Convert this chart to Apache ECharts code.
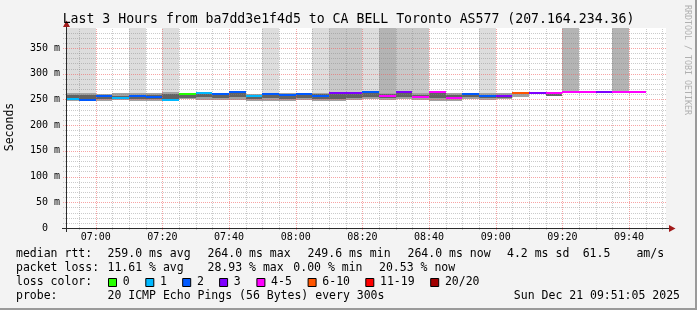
<!DOCTYPE html>
<html><head><meta charset="utf-8">
<script src="https://cdn.jsdelivr.net/npm/echarts@6/dist/echarts.min.js"></script>
<style>html,body{margin:0;padding:0;background:#f3f3f3}#c{width:697px;height:310px}</style>
</head><body><div id="c"></div>
<script>
// ---------- data ----------
const windowStart = '06:51:05';
const windowEnd = '09:51:05';
const slotEnd = ['06:55','07:00','07:05','07:10','07:15','07:20','07:25','07:30','07:35','07:40','07:45','07:50','07:55',
  '08:00','08:05','08:10','08:15','08:20','08:25','08:30','08:35','08:40','08:45','08:50','08:55',
  '09:00','09:05','09:10','09:15','09:20','09:25','09:30','09:35','09:40','09:45'];
const medianRtt = [251.4,249.6,256.7,253.4,256.7,255.4,249.6,260.5,262.0,260.0,263.8,257.3,260.5,258.0,261.2,257.3,262.5,262.5,263.8,
  256.7,263.8,255.4,263.8,253.4,261.2,256.0,256.7,263.1,262.5,262.5,264.0,264.0,264.0,264.0,264.0];
const lossClass = [1,2,2,1,2,2,1,0,1,2,2,1,2,2,2,2,3,3,2,4,3,4,4,4,2,2,3,5,3,4,4,4,3,4,4];
const shadeLevel = [1,1,0,0,1,0,1,0,0,0,0,0,1,0,0,1,2,2,1,3,2,2,0,0,0,1,0,0,0,0,3,0,0,3,0];
const smokeHi = [262,262,260,263,262,262,264,262,263,263,265,261,263,263,263,262,263,263,265,263,264,263,263,262,263,263,263,263,263,262,264,264,264,264,264];
const smokeLo = [247,247,247,249,247,247,247,250,249,249,248,247,247,247,248,247,247,249,250,249,250,249,247,247,251,249,250,255,260,256,264,264,264,264,264];
const coreHi  = [259,258,259,257,259,258,261,260,262,261,263,259,261,260,262,260,262,262,264,260,263,259,263,259,262,259,259,263,263,262,264,264,264,264,264];
const coreLo  = [250,249,251,251,251,251,250,253,254,253,254,251,252,251,252,251,251,253,254,252,254,252,252,250,254,252,253,263,262,257,264,264,264,264,264];
const lossLabels = ['0','1','2','3','4-5','6-10','11-19','20/20'];
const lossColors = ['#26ff00','#00b8ff','#0059ff','#7e00ff','#ff00ff','#ff5500','#ff0000','#a10000'];
const xTickLabels = ['07:00','07:20','07:40','08:00','08:20','08:40','09:00','09:20','09:40'];
const yTickValues = [0,50,100,150,200,250,300,350];
const yTickLabels = ['0  ','50 m','100 m','150 m','200 m','250 m','300 m','350 m'];
const yMax = 388.9;

// ---------- helpers ----------
function sec(s){const p=s.split(':').map(Number);return p[0]*3600+p[1]*60+(p[2]||0);}
const t0 = sec(windowStart), t1 = sec(windowEnd);
const STEP = 300;
const slots = slotEnd.map((e,i)=>[sec(e)-STEP, sec(e), i]);
const xTickValues = xTickLabels.map(sec);
const minorX = []; for(let t=sec('06:55'); t<t1; t+=STEP){ if(!xTickValues.includes(t)) minorX.push([t,0]); }
const majorX = xTickValues.map(t=>[t,1]);
const minorY = []; for(let v=10; v<yMax; v+=10){ if(v%50!==0) minorY.push([t0,v,0]); }
const majorY = yTickValues.filter(v=>v>0).map(v=>[t0,v,1]);

const shadeColors = [null,'#dddddd','#c8c8c8','#b4b4b4'];
const MONO = '"DejaVu Sans Mono", monospace';
const GRID_MIN = 'rgba(130,130,130,0.42)';
const GRID_MAJ = 'rgba(240,90,90,0.55)';

function box(params, api, xa, xb, va, vb){
  const a = api.coord([xa, vb]); const b = api.coord([xb, va]);
  const cs = params.coordSys;
  const x0 = Math.max(Math.round(a[0]), cs.x), x1 = Math.min(Math.round(b[0]), cs.x+cs.width);
  const y0 = Math.max(Math.round(a[1]), cs.y), y1 = Math.round(b[1]);
  if (x1<=x0 || y1<=y0) return null;
  return {x:x0, y:y0, width:x1-x0, height:y1-y0};
}

const chart = echarts.init(document.getElementById('c'), null, {renderer:'canvas'});
const option = {
  backgroundColor:'#f3f3f3',
  animation:false,
  grid:{left:66, top:28, width:600, height:200, show:true, backgroundColor:'#ffffff', borderWidth:0,
    containLabel:false, outerBoundsMode:'none'},
  xAxis:{type:'value', min:t0, max:t1,
    axisLine:{show:false}, axisTick:{show:false}, splitLine:{show:false},
    axisLabel:{customValues:xTickValues, margin:3.5, fontFamily:MONO, fontSize:10, color:'#000', lineHeight:12,
      formatter:(v)=>xTickLabels[xTickValues.indexOf(v)] || ''}},
  yAxis:{type:'value', min:0, max:yMax, interval:50,
    axisLine:{show:false}, axisTick:{show:false}, splitLine:{show:false},
    axisLabel:{margin:6, fontFamily:MONO, fontSize:10, color:'#000',
      formatter:(v)=>{const k=yTickValues.indexOf(v);return k>=0?yTickLabels[k]:'';}}},
  series:[
    {type:'custom', name:'loss shade', z:2, data:slots,
     renderItem:(params, api)=>{
       const i = api.value(2); const lvl = shadeLevel[i];
       if(!lvl) return null;
       const r = box(params, api, api.value(0), api.value(1), smokeHi[i], yMax);
       return r ? {type:'rect', shape:r, style:{fill:shadeColors[lvl]}} : null;
     }},
    {type:'custom', name:'smoke', z:3, data:slots,
     renderItem:(params, api)=>{
       const i = api.value(2); const ch=[];
       const r1 = box(params, api, api.value(0), api.value(1), smokeLo[i], smokeHi[i]);
       if(r1) ch.push({type:'rect', shape:r1, style:{fill:'#a2a2a2'}});
       const r2 = box(params, api, api.value(0), api.value(1), coreLo[i], coreHi[i]);
       if(r2) ch.push({type:'rect', shape:r2, style:{fill:'#626262'}});
       return {type:'group', children:ch};
     }},
    {type:'custom', name:'xgrid', z:4, silent:true, data:minorX.concat(majorX),
     renderItem:(params, api)=>{
       const cs = params.coordSys;
       const x = Math.round(api.coord([api.value(0),0])[0]) + 0.5;
       return {type:'line', shape:{x1:x, y1:cs.y+cs.height+2, x2:x, y2:cs.y},
         style:{stroke: api.value(1)? GRID_MAJ : GRID_MIN, lineWidth:1, lineDash:[1,1]}};
     }},
    {type:'custom', name:'ygrid', z:4, silent:true, data:minorY.concat(majorY),
     renderItem:(params, api)=>{
       const cs = params.coordSys;
       const y = Math.round(api.coord([api.value(0), api.value(1)])[1]) + 0.5;
       return {type:'line', shape:{x1:cs.x-3, y1:y, x2:cs.x+cs.width, y2:y},
         style:{stroke: api.value(2)? GRID_MAJ : GRID_MIN, lineWidth:1, lineDash:[1,1]}};
     }},
    {type:'custom', name:'median rtt', z:5, data:slots,
     renderItem:(params, api)=>{
       const i = api.value(2);
       const a = api.coord([api.value(0), medianRtt[i]]); const b = api.coord([api.value(1), medianRtt[i]]);
       const cs = params.coordSys;
       const x0 = Math.max(Math.round(a[0]), cs.x), x1 = Math.round(b[0]);
       const y = Math.round(a[1]);
       return {type:'rect', shape:{x:x0, y:y-1, width:x1-x0, height:2}, style:{fill:lossColors[lossClass[i]]}};
     }}
  ],
  graphic:[]
};

// frame, title, axes, legend text
const G = option.graphic;
G.push({type:'rect', shape:{x:695, y:0, width:2, height:310}, style:{fill:'#9a9a9a'}, z:100});
G.push({type:'rect', shape:{x:0, y:308, width:697, height:2}, style:{fill:'#9a9a9a'}, z:100});
G.push({type:'text', x:348.5, y:20, z:100, style:{text:'Last 3 Hours from ba7dd3e1f4d5 to CA BELL Toronto AS577 (207.164.234.36)',
  font:'13.2px '+MONO, fill:'#000', align:'center', verticalAlign:'middle'}});
G.push({type:'text', x:687, y:60, rotation:-Math.PI/2, z:100, style:{text:'RRDTOOL / TOBI OETIKER',
  font:'8.3px '+MONO, fill:'#b0b0b0', align:'center', verticalAlign:'middle'}});
G.push({type:'text', x:10.5, y:127, rotation:Math.PI/2, z:100, style:{text:'Seconds',
  font:'11.5px '+MONO, fill:'#000', align:'center', verticalAlign:'middle'}});
// axes
G.push({type:'line', shape:{x1:62, y1:228.5, x2:670, y2:228.5}, style:{stroke:'#2a2a2a', lineWidth:1}, z:90});
G.push({type:'line', shape:{x1:66.5, y1:232, x2:66.5, y2:26}, style:{stroke:'#2a2a2a', lineWidth:1}, z:90});
G.push({type:'polygon', shape:{points:[[669,225],[675.5,228.5],[669,232]]}, style:{fill:'#a11a1a'}, z:91});
G.push({type:'polygon', shape:{points:[[63,27],[66.5,20.5],[70,27]]}, style:{fill:'#a11a1a'}, z:91});

function txt(s, x, y, align){G.push({type:'text', x:x, y:y, z:100, style:{text:s, font:'11.5px '+MONO, fill:'#000', align:align||'left', verticalAlign:'middle'}});}
txt('median rtt:',16,254.5); txt('259.0 ms avg',107.5,254.5); txt('264.0 ms max',207.5,254.5); txt('249.6 ms min',307.5,254.5);
txt('264.0 ms now',407.5,254.5); txt('4.2 ms sd',507,254.5); txt('61.5',582.7,254.5); txt('am/s',636.4,254.5);
txt('packet loss:',16,268.5); txt('11.61 % avg',107.5,268.5); txt('28.93 % max',207.5,268.5); txt('0.00 % min',293.3,268.5); txt('20.53 % now',379,268.5);
txt('loss color:',16,282.5);
const boxX = [108,145.3,182.2,219.1,256.4,307.6,365.3,430.2];
lossLabels.forEach((l,k)=>{
  G.push({type:'rect', shape:{x:boxX[k]+0.5, y:278.5, width:8, height:8}, style:{fill:lossColors[k], stroke:'#000', lineWidth:1}, z:100});
  txt(l, boxX[k]+14.7, 282.5);
});
txt('probe:',16,296.3); txt('20 ICMP Echo Pings (56 Bytes) every 300s',107.5,296.3); txt('Sun Dec 21 09:51:05 2025',680,296.3,'right');

chart.setOption(option);
</script></body></html>
